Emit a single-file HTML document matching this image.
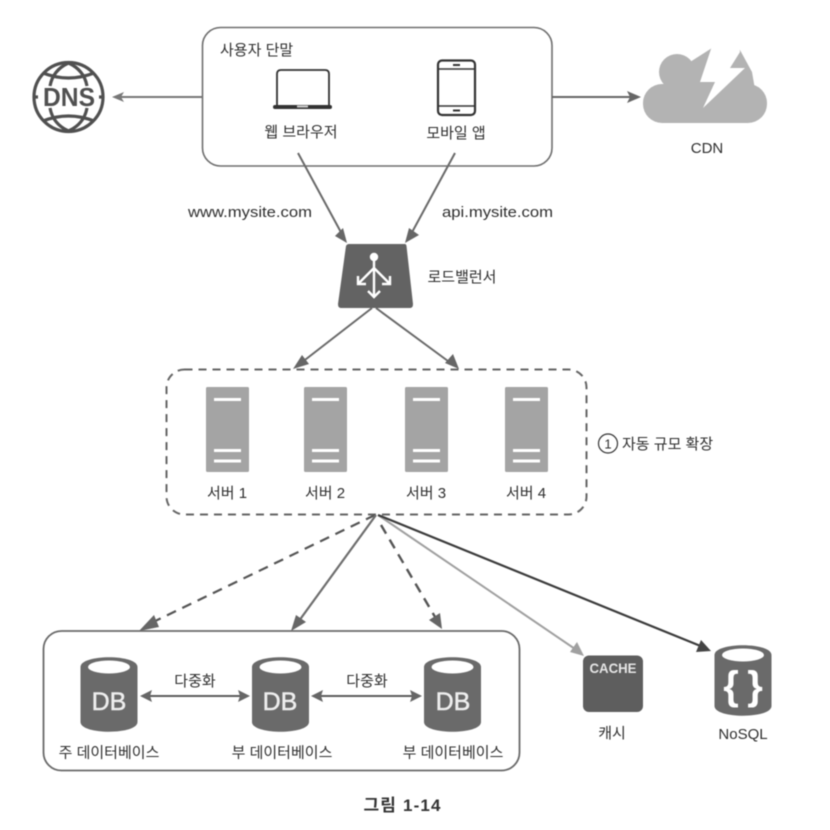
<!DOCTYPE html>
<html><head><meta charset="utf-8"><style>
html,body{margin:0;padding:0;background:#fff}
svg{display:block;filter:blur(0.45px)}
text{font-family:"Liberation Sans","Noto Sans CJK KR",sans-serif;fill:#2e2e2e;font-size:15px;text-anchor:middle}
</style></head><body>
<svg width="830" height="830" viewBox="0 0 830 830" xmlns="http://www.w3.org/2000/svg">
<defs>
<symbol id="srv" overflow="visible">
<rect x="0" y="0" width="43" height="85" rx="1.5" fill="#a4a4a4"/>
<g stroke="#fff" stroke-width="3" fill="none"><path d="M8 12.500H35M8 63.500H35M8 74H35"/></g>
</symbol>
<symbol id="cyl" overflow="visible">
<path d="M0 10C0-3 57-3 57 10V65C57 78 0 78 0 65Z" fill="#6a6a6a"/>
<ellipse cx="28.500" cy="10" rx="21" ry="6.500" fill="#fff"/>
</symbol>
</defs>

<!-- user box -->
<rect x="202.500" y="27.500" width="349.500" height="138.500" rx="18" fill="#fff" stroke="#6e6e6e" stroke-width="1.600"/>
<text x="220" y="55" style="text-anchor:start;font-size:15px">사용자 단말</text>
<!-- laptop -->
<path d="M277 105V74q0-4 4-4H325q4 0 4 4V105" fill="none" stroke="#333" stroke-width="1.800"/>
<rect x="273" y="105" width="59" height="4" rx="2" fill="#333"/>
<rect x="297" y="105.500" width="11" height="2" fill="#ccc"/>
<text x="301" y="137">웹 브라우저</text>
<!-- phone -->
<rect x="438" y="60.500" width="37" height="54.500" rx="4" fill="#fff" stroke="#333" stroke-width="2.200"/>
<path d="M438 69H475M438 106H475" stroke="#333" stroke-width="1.500"/>
<path d="M453 65H460M453 110.500H460" stroke="#333" stroke-width="2"/>
<text x="456" y="138">모바일 앱</text>

<!-- DNS globe -->
<g fill="none" stroke="#505050" stroke-width="3.200">
<circle cx="68.500" cy="97" r="34.500"/>
<path d="M50 86Q53 70 68.500 63Q84 70 87 86M50 108Q53 124 68.500 131Q84 124 87 108"/>
<path d="M43 73Q68.500 83 94 73M43 121Q68.500 111 94 121"/>
<path d="M33 97H38M99 97H104"/>
</g>
<text x="69" y="106" style="font-size:26px;font-weight:bold;fill:#505050" textLength="52" lengthAdjust="spacingAndGlyphs">DNS</text>

<!-- CDN -->
<g fill="#b3b3b3">
<rect x="643" y="84" width="124" height="39" rx="19"/>
<circle cx="677" cy="72" r="18"/>
<path d="M690 62L712 48L740 50L752 72L756 95L690 95Z"/>
</g>
<path d="M712 46L700 82L715 82L703 108L745 68L730 68L740 52L738 38L712 38Z" fill="#fff"/>
<text x="707" y="153">CDN</text>

<!-- horizontal arrows -->
<path d="M202 97H116" stroke="#777" stroke-width="2" fill="none"/>
<path d="M112 97l12-5-3 5 3 5Z" fill="#777"/>
<path d="M552 97H633" stroke="#666" stroke-width="2" fill="none"/>
<path d="M641 97l-14-6 3 6-3 6Z" fill="#666"/>

<!-- to LB -->
<path d="M298 153L343 236M455 153L410 236" stroke="#6a6a6a" stroke-width="2" fill="none"/>
<path d="M347 243L343 228L335 236Z M405 243L419 235L409 228Z" fill="#666"/>
<text x="250" y="217" style="font-size:15px" textLength="124" lengthAdjust="spacingAndGlyphs">www.mysite.com</text>
<text x="497.500" y="217" style="font-size:15px" textLength="111" lengthAdjust="spacingAndGlyphs">api.mysite.com</text>

<!-- LB -->
<path d="M349 244H405Q406 244 406.500 246L413 304Q413 308 410 308H341Q338 308 338 304L346 246Q347 244 349 244Z" fill="#636363"/>
<g stroke="#fff" stroke-width="2.400" fill="none">
<circle cx="374" cy="257" r="3" fill="#fff"/>
<path d="M374 258V296M374 268L359 283M374 268L389 283"/>
<path d="M368 291L374 297L380 291M358 276V284H366M390 276V284H382"/>
</g>
<text x="462" y="282">로드밸런서</text>

<!-- LB to servers -->
<path d="M372 308L301 363M376 308L452 364" stroke="#6a6a6a" stroke-width="2" fill="none"/>
<path d="M293 369L302 355L309 364Z M459 369L445 363L453 354Z" fill="#666"/>

<!-- auto scale box -->
<rect x="166.500" y="369.500" width="420" height="145" rx="18" fill="none" stroke="#666" stroke-width="2" stroke-dasharray="8 6"/>
<use href="#srv" x="206" y="387"/>
<use href="#srv" x="304" y="387"/>
<use href="#srv" x="405" y="387"/>
<use href="#srv" x="505" y="387"/>
<text x="227" y="498">서버 1</text>
<text x="325" y="498">서버 2</text>
<text x="426" y="498">서버 3</text>
<text x="526" y="498">서버 4</text>
<circle cx="608" cy="443.500" r="9.500" fill="none" stroke="#333" stroke-width="1.200"/>
<text x="608" y="448.500" style="font-size:13px">1</text>
<text x="622" y="449" style="text-anchor:start">자동 규모 확장</text>

<!-- bottom connectors -->
<path d="M375 515L147 625" stroke="#555" stroke-width="2.200" stroke-dasharray="10 7" fill="none"/>
<path d="M139 631L154 615L159 627Z" fill="#666"/>
<path d="M376 515L296 625" stroke="#6e6e6e" stroke-width="2.200" fill="none"/>
<path d="M291 631L296 615L306 622Z" fill="#666"/>
<path d="M381 525L438 622" stroke="#555" stroke-width="2.400" stroke-dasharray="10 7" fill="none"/>
<path d="M442 629L429 620L440 613Z" fill="#666"/>
<path d="M378 515L578 651" stroke="#a0a0a0" stroke-width="2" fill="none"/>
<path d="M584 656L570 652L577 642Z" fill="#a0a0a0"/>
<path d="M378 515L703 647" stroke="#3c3c3c" stroke-width="2.200" fill="none"/>
<path d="M711 651L696 652L701 640Z" fill="#444"/>

<!-- DB box -->
<rect x="43.500" y="631" width="476" height="139.500" rx="18" fill="none" stroke="#6a6a6a" stroke-width="1.800"/>
<use href="#cyl" x="80.500" y="657"/>
<use href="#cyl" x="252" y="657"/>
<use href="#cyl" x="424" y="657"/>
<text x="109" y="710" style="font-size:25px;fill:#eee;stroke:#eee;stroke-width:.5">DB</text>
<text x="280" y="710" style="font-size:25px;fill:#eee;stroke:#eee;stroke-width:.5">DB</text>
<text x="453" y="710" style="font-size:25px;fill:#eee;stroke:#eee;stroke-width:.5">DB</text>
<text x="109" y="757.500">주 데이터베이스</text>
<text x="282" y="757.500">부 데이터베이스</text>
<text x="453" y="757.500">부 데이터베이스</text>
<text x="195" y="686">다중화</text>
<text x="367" y="686">다중화</text>
<path d="M148 696H244M320 696H416" stroke="#5c5c5c" stroke-width="2" fill="none"/>
<path d="M140 696l12-6-2 6 2 6ZM250 696l-12-6 2 6-2 6ZM311 696l12-6-2 6 2 6ZM422 696l-12-6 2 6-2 6Z" fill="#666"/>

<!-- cache -->
<rect x="583" y="655.500" width="60" height="56.500" rx="6" fill="#5e5e5e"/>
<text x="613" y="673" style="font-size:14px;font-weight:bold;fill:#e6e6e6" textLength="47" lengthAdjust="spacingAndGlyphs">CACHE</text>
<text x="612" y="738">캐시</text>

<!-- NoSQL -->
<path d="M714.500 655C714.500 642 771.500 642 771.500 655V706C771.500 719 714.500 719 714.500 706Z" fill="#6a6a6a"/>
<ellipse cx="743" cy="655" rx="21" ry="6.500" fill="#fff"/>
<text x="731" y="699" style="font-size:40px;font-weight:bold;fill:#fff">{</text>
<text x="755" y="699" style="font-size:40px;font-weight:bold;fill:#fff">}</text>
<text x="743" y="739">NoSQL</text>

<text x="402" y="811" style="font-size:17px;font-weight:bold;fill:#333" textLength="77" lengthAdjust="spacing">그림 1-14</text>
</svg>
</body></html>
